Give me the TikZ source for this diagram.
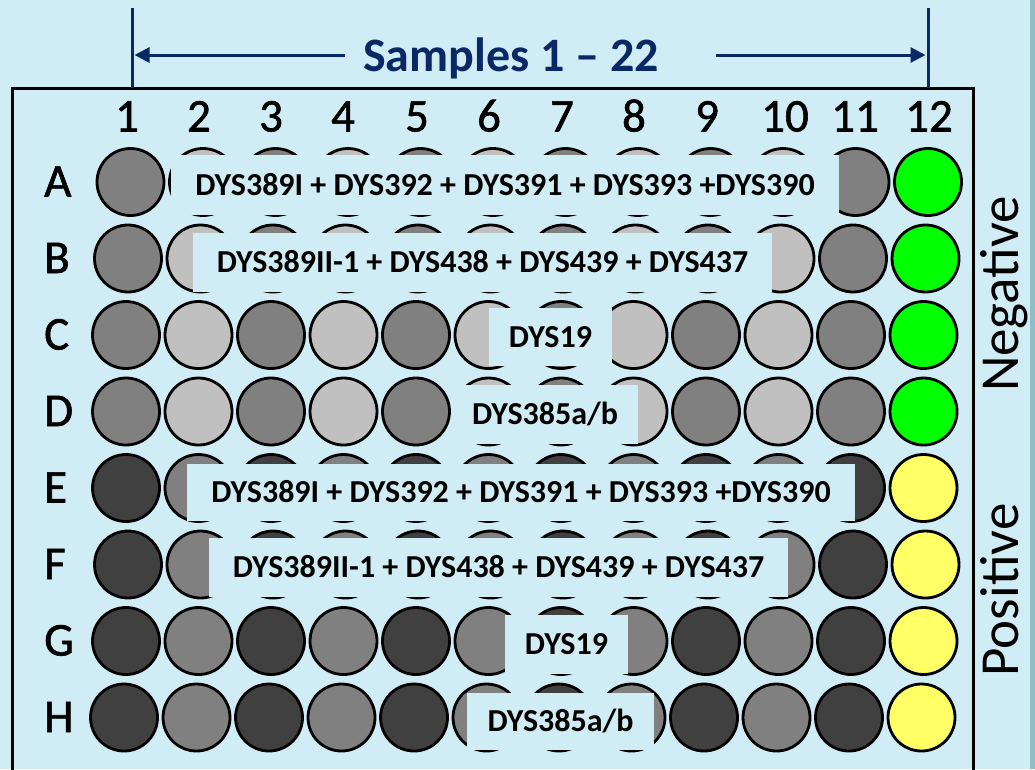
\documentclass[tikz,border=0pt]{standalone}
\usepackage{fontspec}
\setmainfont{Carlito}
\newfontfamily\headfont{Carlito}[FakeBold=1.2]
\usetikzlibrary{arrows.meta}

\definecolor{platebg}{HTML}{D0ECF4}
\definecolor{edgestrip}{HTML}{8DBFC7}
\definecolor{navy}{HTML}{0A2866}
\definecolor{wlight}{HTML}{C0C0C0}
\definecolor{wmid}{HTML}{808080}
\definecolor{wdark}{HTML}{404040}
\definecolor{wneg}{HTML}{00FF00}
\definecolor{wpos}{HTML}{FFFF66}

\begin{document}
\begin{tikzpicture}[
  x=1pt, y=-1pt,
  well/.style={circle, draw, line width=2.8pt, minimum size=67pt, inner sep=0pt},
  lab/.style={fill=platebg, inner sep=0pt, font=\fontsize{32}{36}\selectfont\bfseries, text height=20pt, text depth=0pt},
  colnum/.style={font=\headfont\fontsize{47}{52}\selectfont, text height=29pt, text depth=0pt, inner sep=0pt},
  rowlet/.style={font=\headfont\fontsize{47}{52}\selectfont, anchor=west, text height=29pt, text depth=0pt, inner sep=0pt},
  side/.style={font=\fontsize{55}{60}\selectfont, rotate=90, anchor=base, inner sep=0pt},
  tick/.style={navy, line width=3pt},
  arr/.style={navy, line width=3pt, -{Triangle[length=15pt, width=15pt]}}
]
\useasboundingbox (0,0) rectangle (1035,769);
\clip (0,0) rectangle (1035,769);

% ---------- Background and plate ----------
\fill[platebg] (0,0) rectangle (1035,769);
\fill[edgestrip] (1030,0) rectangle (1035,769);
\draw[line width=3pt] (12,88) rectangle (973,800);

% ---------- Sample range ----------
\node[font=\fontsize{48}{56}\selectfont\bfseries, text=navy, text height=31pt, text depth=0pt, inner sep=0pt]
  (title) at (511,55.5) {Samples 1 -- 22};
\coordinate (tickL-top) at (132,8);
\coordinate (tickL-bot) at (132,88);
\coordinate (tickR-top) at (928,8);
\coordinate (tickR-bot) at (928,88);
\draw[tick] (tickL-top) -- (tickL-bot);
\draw[tick] (tickR-top) -- (tickR-bot);
\coordinate (arrL) at (345,55);
\coordinate (arrR) at (716,55);
\draw[arr] (arrL) -- ([xshift=2.5pt]tickL-top |- arrL);
\draw[arr] (arrR) -- ([xshift=-2.5pt]tickR-top |- arrR);

% ---------- Column numbers ----------
\foreach \c/\nx in {1/127, 2/199, 3/271, 4/343, 5/417, 6/489, 7/562, 8/634, 9/707, 10/785, 11/855, 12/929}
  \node[colnum] (col-\c) at (\nx,117) {\c};

% ---------- Wells ----------
\foreach \r/\dx [count=\i] in {A/4.5, B/2, C/0, D/0, E/0, F/2, G/0, H/-2} {
  \pgfmathsetmacro{\wy}{182+76.5*(\i-1)}
  \ifnum\i<5 \def\wodd{wmid}\def\weven{wlight}\def\wctl{wneg}%
  \else \def\wodd{wdark}\def\weven{wmid}\def\wctl{wpos}\fi
  \node[rowlet] (row-\r) at (44,\wy) {\r};
  \foreach \c in {1,...,12} {
    \pgfmathsetmacro{\wx}{126+72.5*(\c-1)+\dx}
    \ifnum\c=12 \def\wfill{\wctl}\else\ifodd\c \def\wfill{\wodd}\else \def\wfill{\weven}\fi\fi
    \node[well, fill=\wfill] (w-\r-\c) at (\wx,\wy) {};
  }
}

% ---------- Primer labels ----------
\node[lab, minimum width=668pt, minimum height=60pt] (lab-A) at (505,185)
  {DYS389I + DYS392 + DYS391 + DYS393 +DYS390};
\node[lab, minimum width=579pt, minimum height=59pt] (lab-B) at (482.5,262.5)
  {DYS389II-1 + DYS438 + DYS439 + DYS437};
\node[lab, minimum width=123pt, minimum height=58pt] (lab-C) at (550.5,337) {DYS19};
\node[lab, minimum width=186pt, minimum height=59pt] (lab-D) at (545,414.5) {DYS385a/b};
\node[lab, minimum width=668pt, minimum height=57pt] (lab-E) at (521,492.5)
  {DYS389I + DYS392 + DYS391 + DYS393 +DYS390};
\node[lab, minimum width=579pt, minimum height=59pt] (lab-F) at (498.5,567.5)
  {DYS389II-1 + DYS438 + DYS439 + DYS437};
\node[lab, minimum width=123pt, minimum height=59pt] (lab-G) at (566.5,644.5) {DYS19};
\node[lab, minimum width=187pt, minimum height=57pt] (lab-H) at (560.5,721.5) {DYS385a/b};

% ---------- Controls ----------
\node[side] (neg) at (1018,294) {Negative};
\node[side] (pos) at (1018,590) {Positive};
\end{tikzpicture}
\end{document}
